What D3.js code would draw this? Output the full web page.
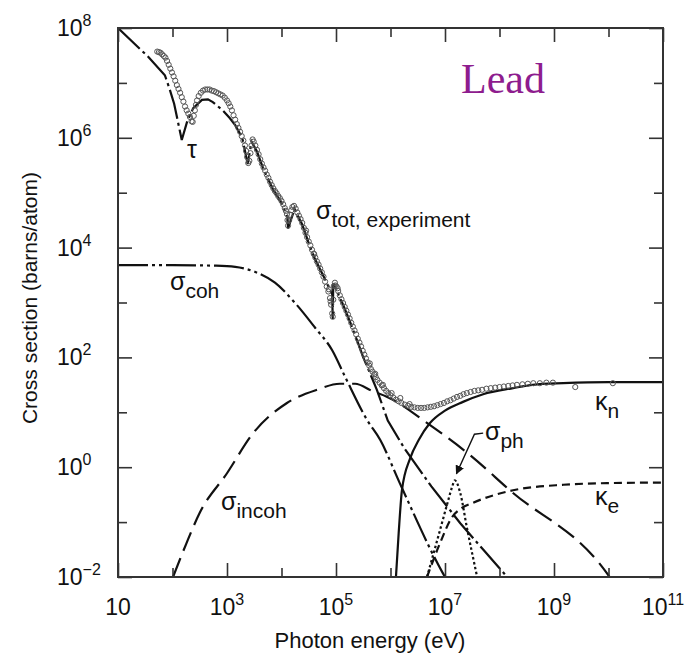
<!DOCTYPE html>
<html>
<head>
<meta charset="utf-8">
<script src="https://cdn.jsdelivr.net/npm/d3@7"></script>
<style>
  body { margin: 0; background: #fff; }
  svg { display: block; font-family: "Liberation Sans", Arial, Helvetica, sans-serif; }
</style>
</head>
<body>
<div id="chart"></div>
<script>
// every point is [log10(E / eV), log10(sigma / barns)]
const experiment = [
  [1.72, 7.57], [1.75, 7.56], [1.78, 7.55], [1.81, 7.52], [1.84, 7.49], [1.87, 7.46],
  [1.90, 7.40], [1.93, 7.33], [1.96, 7.26], [1.99, 7.19], [2.02, 7.12], [2.05, 7.04],
  [2.08, 6.96], [2.11, 6.89], [2.14, 6.82], [2.17, 6.74], [2.20, 6.66], [2.23, 6.57],
  [2.26, 6.50], [2.29, 6.44], [2.32, 6.38], [2.35, 6.30], [2.37, 6.29], [2.39, 6.40],
  [2.41, 6.50], [2.43, 6.60], [2.45, 6.68], [2.48, 6.76], [2.52, 6.82], [2.56, 6.86],
  [2.60, 6.88], [2.64, 6.88], [2.68, 6.88], [2.72, 6.86], [2.76, 6.85], [2.80, 6.83],
  [2.84, 6.81], [2.88, 6.79], [2.92, 6.77], [2.96, 6.73], [3.00, 6.68], [3.03, 6.63],
  [3.06, 6.57], [3.09, 6.50], [3.12, 6.41], [3.15, 6.33], [3.18, 6.25], [3.21, 6.18],
  [3.24, 6.11], [3.27, 6.03], [3.30, 5.95], [3.33, 5.86], [3.35, 5.76], [3.37, 5.65],
  [3.39, 5.54], [3.41, 5.58], [3.43, 5.72], [3.45, 5.86], [3.47, 5.97], [3.49, 5.93],
  [3.52, 5.86], [3.55, 5.78], [3.58, 5.70], [3.61, 5.61], [3.64, 5.53], [3.67, 5.46],
  [3.70, 5.40], [3.73, 5.33], [3.76, 5.27], [3.79, 5.20], [3.82, 5.14], [3.85, 5.08],
  [3.88, 5.03], [3.91, 4.99], [3.94, 4.94], [3.97, 4.90], [4.00, 4.85], [4.03, 4.79],
  [4.06, 4.72], [4.08, 4.67], [4.10, 4.61], [4.11, 4.50], [4.12, 4.40], [4.14, 4.50],
  [4.16, 4.60], [4.18, 4.68], [4.20, 4.74], [4.23, 4.76], [4.26, 4.71], [4.29, 4.64],
  [4.32, 4.58], [4.35, 4.52], [4.38, 4.45], [4.41, 4.36], [4.44, 4.27], [4.47, 4.19],
  [4.50, 4.11], [4.53, 4.04], [4.56, 3.96], [4.59, 3.89], [4.62, 3.82], [4.65, 3.75],
  [4.68, 3.69], [4.71, 3.62], [4.74, 3.55], [4.77, 3.47], [4.80, 3.38], [4.83, 3.29],
  [4.86, 3.20], [4.89, 3.08], [4.91, 2.96], [4.93, 2.80], [4.94, 2.74], [4.95, 3.05],
  [4.96, 3.30], [4.98, 3.36], [5.01, 3.29], [5.04, 3.21], [5.07, 3.13], [5.10, 3.06],
  [5.13, 2.99], [5.16, 2.92], [5.19, 2.85], [5.22, 2.78], [5.25, 2.71], [5.28, 2.63],
  [5.31, 2.56], [5.34, 2.49], [5.37, 2.42], [5.40, 2.34], [5.43, 2.27], [5.46, 2.20],
  [5.49, 2.12], [5.52, 2.05], [5.55, 1.98], [5.58, 1.91], [5.61, 1.85], [5.64, 1.79],
  [5.67, 1.74], [5.70, 1.69], [5.73, 1.64], [5.76, 1.59], [5.80, 1.54], [5.84, 1.49],
  [5.88, 1.44], [5.92, 1.39], [5.96, 1.35], [6.00, 1.31], [6.05, 1.27], [6.10, 1.23],
  [6.15, 1.20], [6.20, 1.17], [6.26, 1.14], [6.32, 1.12], [6.38, 1.10], [6.44, 1.09],
  [6.50, 1.08], [6.56, 1.08], [6.62, 1.08], [6.68, 1.09], [6.74, 1.10], [6.80, 1.11],
  [6.86, 1.13], [6.92, 1.15], [6.98, 1.17], [7.04, 1.20], [7.10, 1.22], [7.16, 1.25],
  [7.22, 1.28], [7.28, 1.30], [7.34, 1.33], [7.40, 1.35], [7.47, 1.37], [7.54, 1.39],
  [7.61, 1.40], [7.68, 1.41], [7.76, 1.43], [7.84, 1.44], [7.92, 1.45], [8.00, 1.46],
  [8.08, 1.47], [8.16, 1.48], [8.24, 1.49], [8.32, 1.50], [8.42, 1.51], [8.52, 1.52],
  [8.62, 1.53], [8.74, 1.53], [8.86, 1.54], [8.98, 1.54], [9.39, 1.46], [10.08, 1.53],
  // second, slightly offset data sets around the edges and the minimum
  [4.45, 4.31], [4.60, 3.88], [4.87, 3.24], [4.90, 3.02], [4.99, 3.31], [5.03, 3.26],
  [5.62, 1.89], [5.72, 1.70], [5.86, 1.50], [6.02, 1.35], [6.18, 1.26], [6.35, 1.15]
];

const tau = [
  [1.00, 8.00], [1.55, 7.48], [1.86, 7.14], [1.95, 6.88], [2.03, 6.62], [2.17, 5.96],
  [2.27, 6.30], [2.38, 6.54], [2.54, 6.69], [2.65, 6.70], [2.74, 6.65], [2.91, 6.51],
  [3.05, 6.36], [3.15, 6.23], [3.28, 6.00], [3.38, 5.52], [3.45, 5.93], [3.55, 5.75],
  [3.66, 5.45], [3.84, 5.07], [4.01, 4.80], [4.11, 4.55], [4.12, 4.35], [4.24, 4.70],
  [4.38, 4.42], [4.49, 4.11], [4.61, 3.80], [4.76, 3.50], [4.93, 3.15], [4.94, 2.70],
  [4.95, 3.35], [5.13, 2.96], [5.26, 2.64], [5.39, 2.30], [5.50, 2.00], [5.62, 1.72],
  [5.75, 1.41], [5.95, 0.85], [6.25, 0.35], [6.75, -0.35], [7.28, -1.02], [7.70, -1.50],
  [8.14, -2.00]
];

const coherent = [
  [1.00, 3.68], [2.00, 3.68], [2.80, 3.67], [3.15, 3.65], [3.51, 3.56], [3.88, 3.36],
  [4.25, 2.99], [4.61, 2.55], [4.93, 2.13], [5.17, 1.64], [5.57, 0.86], [5.81, 0.50],
  [6.17, -0.29], [6.96, -1.93], [7.00, -2.00]
];

const incoherent = [
  [2.01, -2.00], [2.25, -1.40], [2.50, -0.83], [3.00, -0.11], [3.48, 0.62], [4.10, 1.17],
  [4.65, 1.41], [5.07, 1.52], [5.35, 1.52], [5.68, 1.38], [5.94, 1.28], [6.72, 0.77],
  [7.46, 0.22], [8.19, -0.42], [9.97, -1.93], [10.02, -2.00]
];

const kappaN = [
  [6.10, -2.00], [6.15, -1.20], [6.21, -0.42], [6.36, 0.16], [6.52, 0.50], [6.72, 0.80],
  [7.00, 1.03], [7.33, 1.19], [7.70, 1.33], [8.25, 1.44], [8.61, 1.50], [9.17, 1.53],
  [10.00, 1.55], [11.00, 1.55]
];

const kappaE = [
  [6.67, -2.00], [6.91, -1.38], [7.13, -0.91], [7.30, -0.75], [7.51, -0.65], [8.25, -0.42],
  [9.17, -0.32], [10.00, -0.29], [11.00, -0.28]
];

const photonuclear = [
  [6.67, -2.00], [6.91, -1.14], [7.06, -0.60], [7.13, -0.36], [7.18, -0.24], [7.28, -0.47],
  [7.40, -1.09], [7.59, -2.00]
];

// arrow from the sigma_ph label down to the resonance peak
const phArrow = [[7.70, 0.62], [7.54, 0.60], [7.21, -0.12]];

const xDecades = d3.range(1, 12);
const yDecades = d3.range(-2, 9);
const xLabelled = [1, 3, 5, 7, 9, 11];
const yLabelled = [-2, 0, 2, 4, 6, 8];

const width = 694;
const height = 656;
const plotLeft = 118, plotRight = 663, plotTop = 28, plotBottom = 577;

const x = d3.scaleLog().domain([1e1, 1e11]).range([plotLeft, plotRight]);
const y = d3.scaleLog().domain([1e-2, 1e8]).range([plotBottom, plotTop]);
const px = d => x(Math.pow(10, d[0]));
const py = d => y(Math.pow(10, d[1]));

const svg = d3.select('#chart').append('svg')
    .attr('width', width)
    .attr('height', height);

const defs = svg.append('defs');

defs.append('clipPath').attr('id', 'plot')
  .append('rect')
    .attr('x', plotLeft).attr('y', plotTop)
    .attr('width', plotRight - plotLeft).attr('height', plotBottom - plotTop);

const smooth = d3.line().x(px).y(py).curve(d3.curveMonotoneX);
const straight = d3.line().x(px).y(py);

const curves = [
  {data: tau, gen: straight, dash: '30,4,3,4'},
  {data: coherent, gen: smooth, dash: '30,4,3,4,3,4'},
  {data: incoherent, gen: smooth, dash: '20,8'},
  {data: kappaN, gen: smooth, dash: null},
  {data: kappaE, gen: smooth, dash: '8,5'},
  {data: photonuclear, gen: smooth, dash: '2.5,2.5'}
];

const plot = svg.append('g').attr('clip-path', 'url(#plot)');

curves.forEach(function(c) {
  plot.append('path')
      .attr('d', c.gen(c.data))
      .attr('fill', 'none')
      .attr('stroke', '#111')
      .attr('stroke-width', 2.2)
      .attr('stroke-dasharray', c.dash);
});

plot.selectAll('circle')
    .data(experiment)
    .enter()
    .append('circle')
    .attr('cx', px)
    .attr('cy', py)
    .attr('r', 2.6)
    .attr('fill', 'none')
    .attr('stroke', '#555')
    .attr('stroke-width', 1);

// sigma_ph pointer
defs.append('marker')
    .attr('id', 'head')
    .attr('viewBox', '0 0 10 10')
    .attr('refX', 9).attr('refY', 5)
    .attr('markerWidth', 9).attr('markerHeight', 9)
    .attr('markerUnits', 'userSpaceOnUse')
    .attr('orient', 'auto')
  .append('path')
    .attr('d', 'M0,0L10,5L0,10z')
    .attr('fill', '#111');

svg.append('path')
    .attr('d', straight(phArrow))
    .attr('fill', 'none')
    .attr('stroke', '#111')
    .attr('stroke-width', 1.4)
    .attr('marker-end', 'url(#head)');

// ticks on all four sides, pointing inward
function ticks(axisFn, scale, exps, size, transform) {
  svg.append('g')
      .attr('transform', transform)
      .call(axisFn(scale)
          .tickValues(exps.map(e => Math.pow(10, e)))
          .tickSize(-size)
          .tickSizeOuter(0)
          .tickFormat(''))
      .call(g => g.select('.domain').remove())
      .call(g => g.selectAll('line').attr('stroke', '#333').attr('stroke-width', 1.6));
}

const xMinor = xDecades.filter(e => !xLabelled.includes(e));
const yMinor = yDecades.filter(e => !yLabelled.includes(e));

ticks(d3.axisBottom, x, xLabelled, 14, `translate(0,${plotBottom})`);
ticks(d3.axisBottom, x, xMinor, 9, `translate(0,${plotBottom})`);
ticks(d3.axisTop, x, xLabelled, 14, `translate(0,${plotTop})`);
ticks(d3.axisTop, x, xMinor, 9, `translate(0,${plotTop})`);
ticks(d3.axisLeft, y, yLabelled, 14, `translate(${plotLeft},0)`);
ticks(d3.axisLeft, y, yMinor, 9, `translate(${plotLeft},0)`);
ticks(d3.axisRight, y, yLabelled, 14, `translate(${plotRight},0)`);
ticks(d3.axisRight, y, yMinor, 9, `translate(${plotRight},0)`);

svg.append('rect')
    .attr('x', plotLeft).attr('y', plotTop)
    .attr('width', plotRight - plotLeft).attr('height', plotBottom - plotTop)
    .attr('fill', 'none')
    .attr('stroke', '#333')
    .attr('stroke-width', 2);

function power(sel, e) {
  sel.append('tspan').text('10');
  if (e !== 1) {
    sel.append('tspan')
        .attr('dy', -10)
        .attr('font-size', 16)
        .text(e < 0 ? '\u2212' + (-e) : e);
  }
}

svg.append('g').selectAll('text')
    .data(xLabelled)
    .enter()
    .append('text')
    .attr('x', e => x(Math.pow(10, e)))
    .attr('y', 615)
    .attr('text-anchor', 'middle')
    .attr('font-size', 23)
    .attr('fill', '#111')
    .each(function(e) { power(d3.select(this), e); });

svg.append('g').selectAll('text')
    .data(yLabelled)
    .enter()
    .append('text')
    .attr('x', 57)
    .attr('y', e => y(Math.pow(10, e)) + 8)
    .attr('font-size', 23)
    .attr('fill', '#111')
    .each(function(e) { power(d3.select(this), e); });

svg.append('text')
    .attr('x', 370)
    .attr('y', 648)
    .attr('text-anchor', 'middle')
    .attr('font-size', 22)
    .attr('fill', '#111')
    .text('Photon energy (eV)');

svg.append('text')
    .attr('transform', 'translate(37,298) rotate(-90)')
    .attr('text-anchor', 'middle')
    .attr('font-size', 21)
    .attr('fill', '#111')
    .text('Cross section (barns/atom)');

function label(lx, ly, main, sub) {
  const t = svg.append('text')
      .attr('x', lx)
      .attr('y', ly)
      .attr('fill', '#111')
      .attr('font-size', 25);
  t.append('tspan').text(main);
  if (sub) t.append('tspan').attr('dy', 8).attr('font-size', 21).text(sub);
}

label(187, 158, '\u03c4');
label(316, 219, '\u03c3', 'tot, experiment');
label(170, 290, '\u03c3', 'coh');
label(221, 510, '\u03c3', 'incoh');
label(485, 440, '\u03c3', 'ph');
label(595, 410, '\u03ba', 'n');
label(595, 505, '\u03ba', 'e');

svg.append('text')
    .attr('x', 461)
    .attr('y', 93)
    .attr('font-family', '"Liberation Serif", "Times New Roman", serif')
    .attr('font-size', 42)
    .attr('fill', '#8e1c8e')
    .text('Lead');
</script>
</body>
</html>
